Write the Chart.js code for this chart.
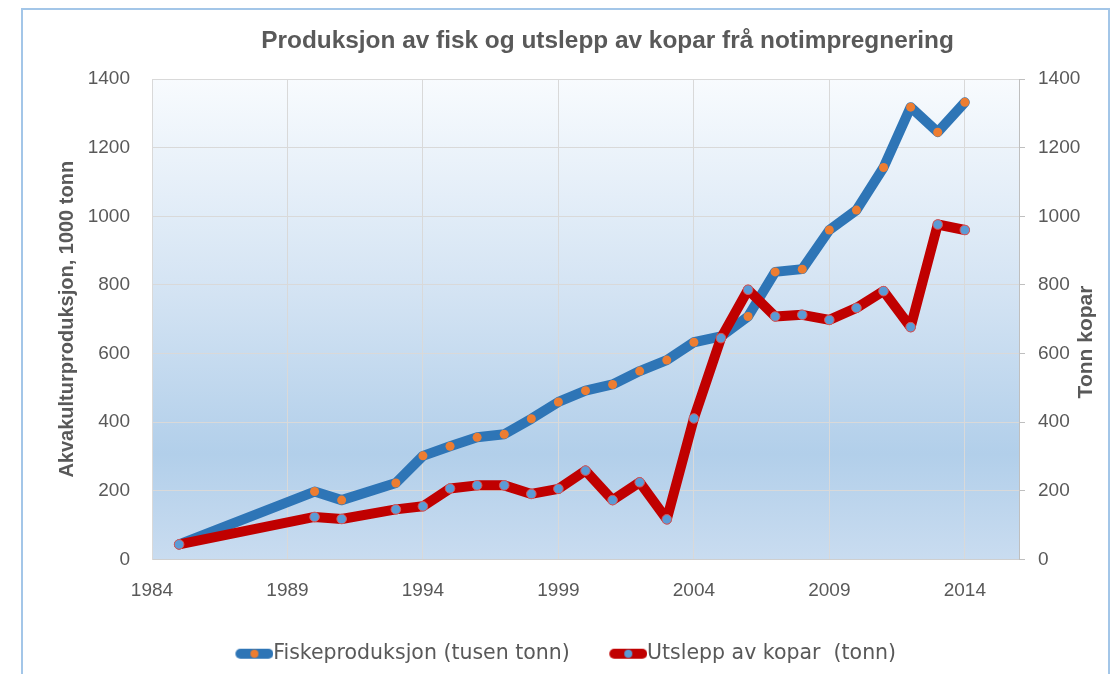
<!DOCTYPE html>
<html><head><meta charset="utf-8">
<script src="https://cdn.jsdelivr.net/npm/chart.js@4/dist/chart.umd.min.js"></script>
<style>
html,body{margin:0;padding:0;background:#fff;overflow:hidden}
#wrap{position:relative;width:1117px;height:674px}
#frame{position:absolute;left:21px;top:8px;width:1085px;height:700px;border:2px solid #a3c6e8;box-sizing:content-box}
canvas{position:absolute;left:0;top:0}
</style></head><body>
<div id="wrap"><div id="frame"></div><canvas id="c" width="1117" height="674"></canvas></div>
<script>
const chartTitle = 'Produksjon av fisk og utslepp av kopar frå notimpregnering';
const leftAxisTitle = 'Akvakulturproduksjon, 1000 tonn';
const rightAxisTitle = 'Tonn kopar';
const seriesNames = ['Fiskeproduksjon (tusen tonn)', 'Utslepp av kopar  (tonn)'];
const years = [1985,1990,1991,1993,1994,1995,1996,1997,1998,1999,2000,2001,2002,2003,2004,2005,2006,2007,2008,2009,2010,2011,2012,2013,2014];
const fisk  = [44,198,173,223,302,330,356,365,410,459,492,510,549,581,633,650,708,838,846,960,1018,1142,1318,1245,1332];
const kopar = [44,124,118,146,155,207,216,216,191,206,259,173,225,117,411,645,786,708,713,698,733,782,677,976,960];
const xTicks = [1984,1989,1994,1999,2004,2009,2014];
const yTicks = [0,200,400,600,800,1000,1200,1400];

const TXT = '#595959';
const LEG_FS = 20.5;
const LEG_BOX = 57;
function legendIcon(lineColor, dotColor) {
  const W = Math.round(LEG_BOX + LEG_FS);
  const c = document.createElement('canvas'); c.width = W; c.height = 14;
  const g = c.getContext('2d');
  const x0 = W - 38;
  g.strokeStyle = lineColor; g.lineWidth = 10; g.lineCap = 'round';
  g.beginPath(); g.moveTo(x0 + 5, 7); g.lineTo(x0 + 33, 7); g.stroke();
  g.fillStyle = dotColor; g.beginPath(); g.arc(x0 + 19, 7, 4, 0, 2 * Math.PI); g.fill();
  return c;
}
const icons = [legendIcon('#2e75b6', '#ed7d31'), legendIcon('#c00000', '#5b9bd5')];

const bgPlugin = {
  id: 'bg',
  beforeDraw(chart) {
    const {ctx, chartArea: a} = chart;
    const g = ctx.createLinearGradient(0, a.top, 0, a.bottom);
    g.addColorStop(0, '#f8fbfe');
    g.addColorStop(0.45, '#d3e3f3');
    g.addColorStop(0.78, '#b2cfea');
    g.addColorStop(1, '#c9dcf0');
    ctx.save(); ctx.fillStyle = g; ctx.fillRect(a.left, a.top, a.right - a.left, a.bottom - a.top); ctx.restore();
  },
  afterDraw(chart) {
    const ctx = chart.ctx;
    ctx.save();
    ctx.fillStyle = TXT;
    ctx.font = 'bold 24.4px "Liberation Sans", Arial, sans-serif';
    ctx.textAlign = 'center'; ctx.textBaseline = 'alphabetic';
    ctx.fillText(chartTitle, 607.5, 48);
    ctx.translate(1092, 342); ctx.rotate(-Math.PI / 2);
    ctx.font = 'bold 21px "Liberation Sans", Arial, sans-serif';
    ctx.fillText(rightAxisTitle, 0, 0);
    ctx.restore();
  }
};

const tickFont = {family: '"Liberation Sans", Arial, sans-serif', size: 19};
new Chart(document.getElementById('c'), {
  type: 'line',
  data: {
    datasets: [
      {label: seriesNames[0], data: years.map((x, i) => ({x, y: fisk[i]})), yAxisID: 'y', order: 1,
       borderColor: '#2e75b6', borderWidth: 10, borderJoinStyle: 'round', borderCapStyle: 'round',
       pointRadius: 4.5, pointBackgroundColor: '#ed7d31', pointBorderColor: '#ed7d31', pointBorderWidth: 0, tension: 0},
      {label: seriesNames[1], data: years.map((x, i) => ({x, y: kopar[i]})), yAxisID: 'y2', order: 0,
       borderColor: '#c00000', borderWidth: 10, borderJoinStyle: 'round', borderCapStyle: 'round',
       pointRadius: 4.8, pointBackgroundColor: '#5b9bd5', pointBorderColor: '#d65a5a', pointBorderWidth: 1, tension: 0}
    ]
  },
  options: {
    responsive: false, animation: false, devicePixelRatio: 1,
    layout: {padding: {left: 0, right: 15, top: 79, bottom: 0}},
    scales: {
      x: {type: 'linear', min: 1984, max: 2016,
          afterBuildTicks: s => { s.ticks = xTicks.map(v => ({value: v})); },
          afterFit: s => { s.height = 74; },
          grid: {color: '#d9d9d9', drawTicks: false}, border: {color: '#cfcfcf'},
          ticks: {color: TXT, font: tickFont, padding: 20, maxRotation: 0, callback: v => String(v)}},
      y: {position: 'left', min: 0, max: 1400,
          afterBuildTicks: s => { s.ticks = yTicks.map(v => ({value: v})); },
          afterFit: s => { s.width = 152; },
          grid: {color: '#d9d9d9', drawTicks: false}, border: {color: '#d9d9d9'},
          ticks: {color: TXT, font: tickFont, padding: 22, callback: v => String(v)},
          title: {display: true, text: leftAxisTitle, color: TXT, padding: {top: 55, bottom: 0},
                  font: {family: '"Liberation Sans", Arial, sans-serif', size: 20, weight: 'bold'}}},
      y2: {position: 'right', min: 0, max: 1400,
          afterBuildTicks: s => { s.ticks = yTicks.map(v => ({value: v})); },
          afterFit: s => { s.width = 83; },
          grid: {drawOnChartArea: false, color: '#bfbfbf', tickLength: 6}, border: {color: '#bfbfbf'},
          ticks: {color: TXT, font: tickFont, padding: 13, callback: v => String(v)}}
    },
    plugins: {
      title: {display: false},
      tooltip: {enabled: false},
      legend: {
        position: 'bottom',
        labels: {
          usePointStyle: true, pointStyleWidth: LEG_BOX, padding: 10, color: TXT,
          font: {family: '"DejaVu Sans", sans-serif', size: LEG_FS},
          generateLabels: chart => chart.data.datasets.map((d, i) => ({
            text: d.label, pointStyle: icons[i], fontColor: TXT, datasetIndex: i,
            hidden: false, lineWidth: 0, strokeStyle: 'transparent', fillStyle: 'transparent'
          }))
        }
      }
    }
  },
  plugins: [bgPlugin]
});
</script>
</body></html>
